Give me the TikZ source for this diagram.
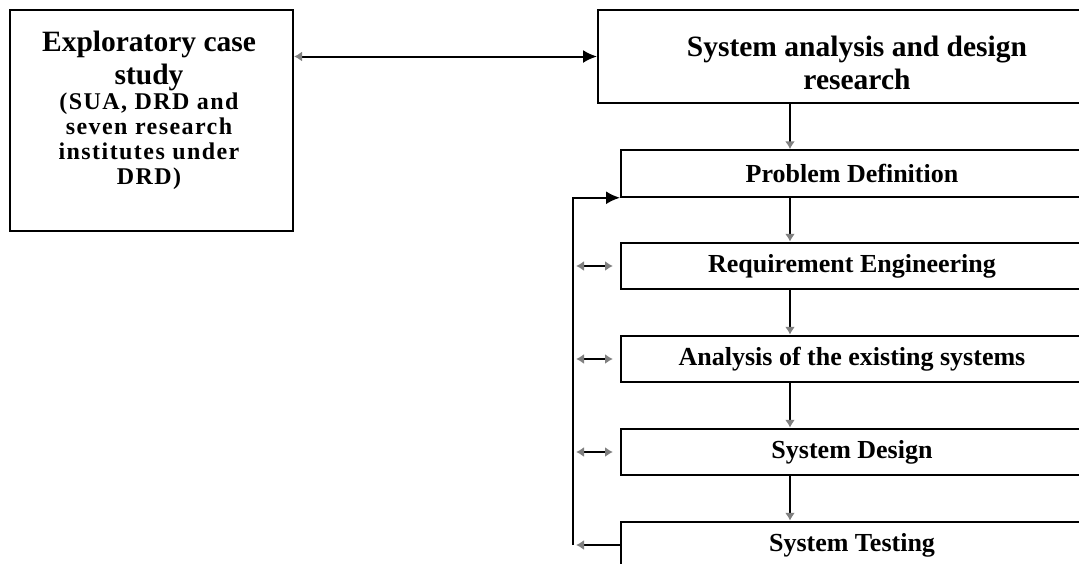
\documentclass[tikz,border=0pt]{standalone}
\usepackage{fontspec}
\setmainfont{Liberation Serif}
\usetikzlibrary{arrows.meta}
\tikzset{
  gtip/.tip={Latex[length=8pt,width=10pt,gray]},
  btip/.tip={Latex[length=14pt,width=13pt,black]},
}
\newcommand{\bigf}{\fontsize{29.5}{32}\selectfont\bfseries}
\newcommand{\smallf}{\fontsize{24}{25}\selectfont\bfseries\addfontfeatures{LetterSpace=6}}
\begin{document}
\begin{tikzpicture}[x=1pt,y=-1pt,
  box/.style={draw, line width=2pt, rectangle, inner sep=0pt},
  stepbox/.style={box, minimum width=462pt, minimum height=46.5pt,
    font=\fontsize{26}{26}\selectfont\bfseries},
  txt/.style={align=center, inner sep=0pt},
  conn/.style={line width=2pt},
]
\useasboundingbox (0,0) rectangle (1079,563);
\clip (0,0) rectangle (1079,563);

% left box
\node[box, minimum width=283pt, minimum height=221pt] (ecs) at (151.5,120.5) {};
\node[txt, font=\fontsize{25}{25}\selectfont\bfseries] (ecst) at (149,110)
  {\bigf Exploratory case\\[5pt]\bigf study\\
   \smallf (SUA, DRD and\\\smallf seven research\\\smallf institutes under\\\smallf DRD)};

% top right box
\node[box, minimum width=518pt, minimum height=93pt] (sad) at (857,56.5) {};
\node[txt, font=\fontsize{29.5}{33}\selectfont\bfseries] (sadt) at (857,63) {System analysis and design\\research};

% steps
\node[stepbox] (pd) at (852,173.5) {Problem Definition};
\node[stepbox] (re) at (852,266) {Requirement Engineering};
\node[stepbox] (an) at (852,359) {Analysis of the existing systems};
\node[stepbox] (sd) at (852,452) {System Design};
\node[stepbox] (st) at (852,545) {System Testing};

\coordinate (ax) at (790,0);
\coordinate (fb) at (573,0);

% top connector
\draw[conn, gtip-btip] (ecs.east |- sad.west) -- (sad.west);

% down arrows
\draw[conn, -gtip] (sad.south -| ax) -- (pd.north -| ax);
\draw[conn, -gtip] (pd.south -| ax) -- (re.north -| ax);
\draw[conn, -gtip] (re.south -| ax) -- (an.north -| ax);
\draw[conn, -gtip] (an.south -| ax) -- (sd.north -| ax);
\draw[conn, -gtip] (sd.south -| ax) -- (st.north -| ax);

% feedback loop
\draw[conn, -btip] (fb |- st.west) -- (fb |- pd.south west) -- (pd.south west);
\draw[conn, gtip-gtip, shorten <=3pt, shorten >=7pt] (fb |- re.west) -- (re.west);
\draw[conn, gtip-gtip, shorten <=3pt, shorten >=7pt] (fb |- an.west) -- (an.west);
\draw[conn, gtip-gtip, shorten <=3pt, shorten >=7pt] (fb |- sd.west) -- (sd.west);
\draw[conn, -gtip, shorten >=3pt] (st.west) -- (fb |- st.west);
\end{tikzpicture}
\end{document}
